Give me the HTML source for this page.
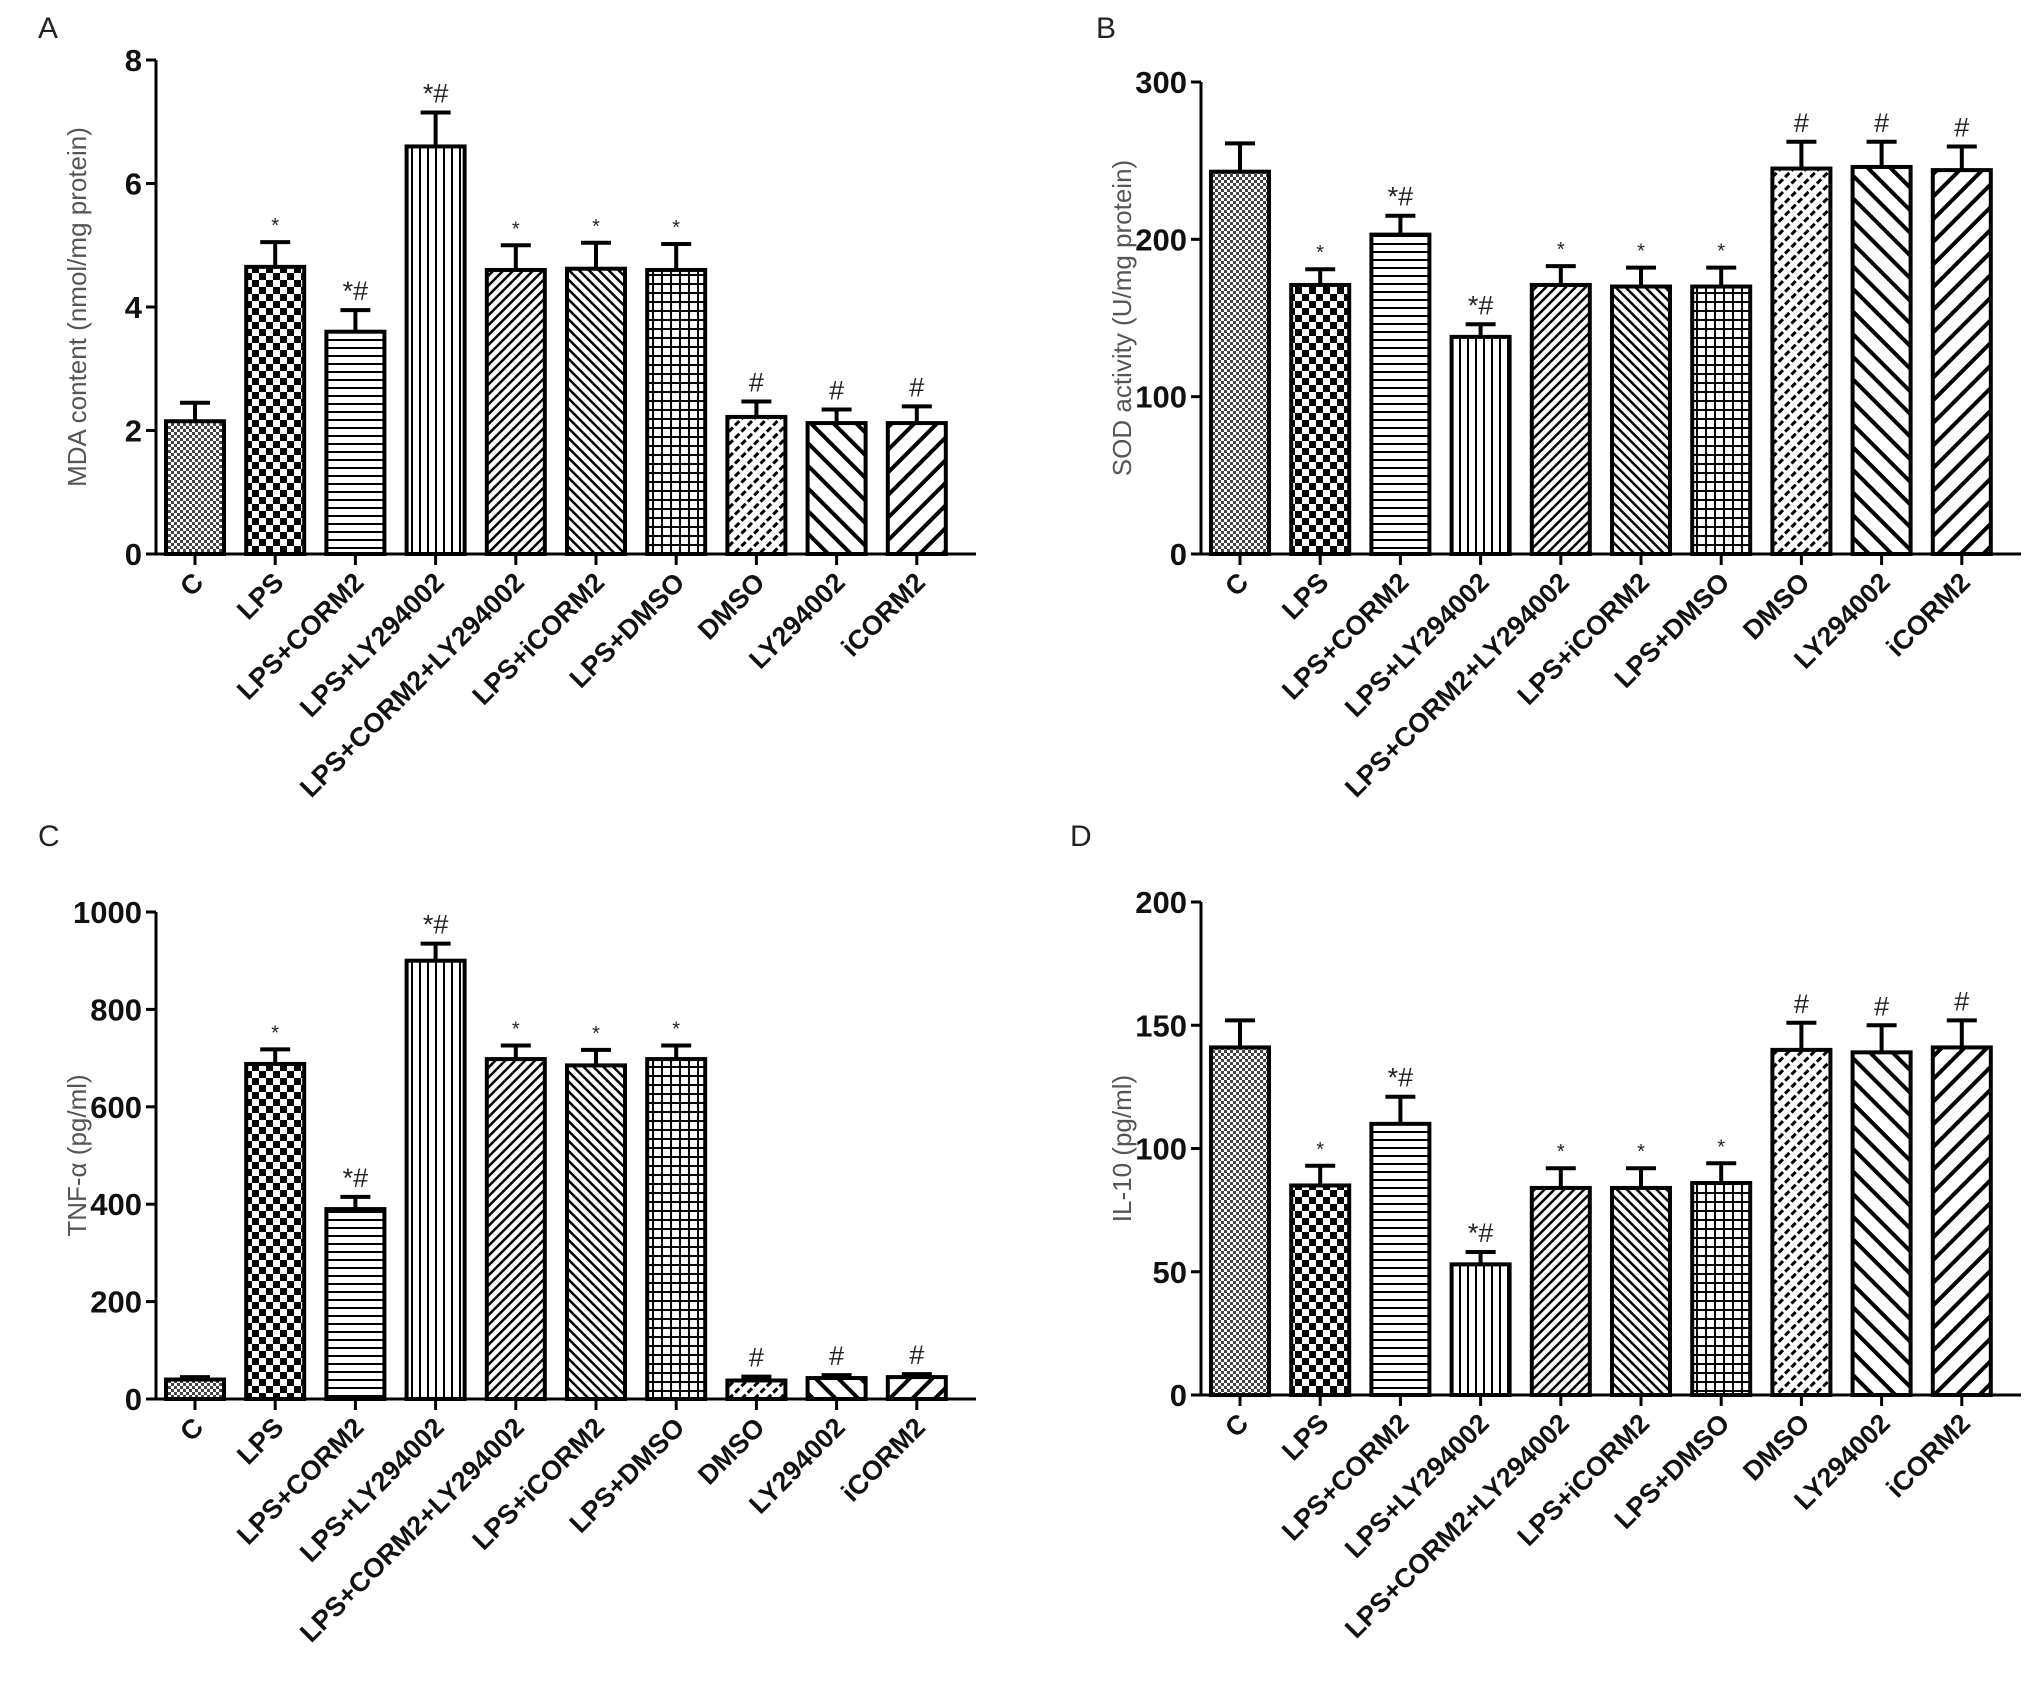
<!DOCTYPE html>
<html><head><meta charset="utf-8"><style>
html,body{margin:0;padding:0;background:#fff;}
svg{display:block;font-family:"Liberation Sans",Arial,sans-serif;}
</style></head><body>
<svg id="fig" width="2031" height="1698" viewBox="0 0 2031 1698" xmlns="http://www.w3.org/2000/svg">
<defs>
<pattern id="p0" patternUnits="userSpaceOnUse" width="6" height="6"><rect width="6" height="6" fill="#fff"/><rect width="3" height="3" fill="#444"/><rect x="3" y="3" width="3" height="3" fill="#444"/></pattern>
<pattern id="p1" patternUnits="userSpaceOnUse" width="14" height="14"><rect width="14" height="14" fill="#fff"/><rect width="7" height="7" fill="#000"/><rect x="7" y="7" width="7" height="7" fill="#000"/></pattern>
<pattern id="p2" patternUnits="userSpaceOnUse" width="8" height="8"><rect width="8" height="8" fill="#fff"/><rect y="3" width="8" height="2" fill="#000"/></pattern>
<pattern id="p3" patternUnits="userSpaceOnUse" width="8" height="8"><rect width="8" height="8" fill="#fff"/><rect x="3" width="2" height="8" fill="#000"/></pattern>
<pattern id="p4" patternUnits="userSpaceOnUse" width="7" height="7" patternTransform="rotate(45)"><rect width="7" height="7" fill="#fff"/><rect width="2.5" height="7" fill="#000"/></pattern>
<pattern id="p5" patternUnits="userSpaceOnUse" width="7" height="7" patternTransform="rotate(-45)"><rect width="7" height="7" fill="#fff"/><rect width="2.5" height="7" fill="#000"/></pattern>
<pattern id="p6" patternUnits="userSpaceOnUse" width="9" height="9"><rect width="9" height="9" fill="#fff"/><rect x="4" width="2" height="9" fill="#000"/><rect y="4" width="9" height="2" fill="#000"/></pattern>
<pattern id="p7" patternUnits="userSpaceOnUse" width="9" height="9" patternTransform="rotate(45)"><rect width="9" height="9" fill="#fff"/><rect width="3" height="6" fill="#000"/></pattern>
<pattern id="p8" patternUnits="userSpaceOnUse" width="16" height="16" patternTransform="rotate(-45)"><rect width="16" height="16" fill="#fff"/><rect width="4" height="16" fill="#000"/></pattern>
<pattern id="p9" patternUnits="userSpaceOnUse" width="16" height="16" patternTransform="rotate(45)"><rect width="16" height="16" fill="#fff"/><rect width="4" height="16" fill="#000"/></pattern>
</defs>
</svg>
<script>
const categories = ["C","LPS","LPS+CORM2","LPS+LY294002","LPS+CORM2+LY294002","LPS+iCORM2","LPS+DMSO","DMSO","LY294002","iCORM2"];
const notes = ["","*","*#","*#","*","*","*","#","#","#"];
const mdaValues = [2.15,4.65,3.6,6.6,4.6,4.62,4.6,2.22,2.12,2.12];
const mdaErrors = [0.3,0.4,0.35,0.55,0.4,0.42,0.42,0.25,0.22,0.27];
const sodValues = [243,171,203,138,171,170,170,245,246,244];
const sodErrors = [18,10,12,8,12,12,12,17,16,15];
const tnfValues = [40,688,390,900,698,685,698,38,43,45];
const tnfErrors = [5,30,25,35,28,32,28,8,6,6];
const il10Values = [141,85,110,53,84,84,86,140,139,141];
const il10Errors = [11,8,11,5,8,8,8,11,11,11];
const mdaTicks = [0,2,4,6,8];
const sodTicks = [0,100,200,300];
const tnfTicks = [0,200,400,600,800,1000];
const il10Ticks = [0,50,100,150,200];

const svg = document.getElementById('fig');
const NS = 'http://www.w3.org/2000/svg';
function mk(tag, attrs, parent){const e=document.createElementNS(NS,tag);for(const k in attrs)e.setAttribute(k,attrs[k]);(parent||svg).appendChild(e);return e;}

function panel(cfg){
  const g = mk('g',{});
  
  
  const ymax = cfg.ticks[cfg.ticks.length-1];
  const yS = v => cfg.y0 - (v/ymax)*(cfg.y0-cfg.yTop);
  const xS = i => cfg.x0 + 39 + i*80.2;
  const bw = 58;
  const lt = mk('text',{x:cfg.lx,y:cfg.ly,'font-size':30,fill:'#222'},g);
  lt.textContent = cfg.letter;
  
  
  const yt = mk('text',{x:0,y:0,'font-size':26,fill:'#555','text-anchor':'middle',transform:`translate(${cfg.x0-70},${(cfg.y0+cfg.yTop)/2}) rotate(-90)`},g);
  yt.textContent = cfg.title;
  
  
  categories.forEach((c,i)=>{
    const v = cfg.values[i], e = cfg.errors[i], cx = xS(i);
    const top = yS(v+e);
    const el = mk('line',{x1:cx,x2:cx,y1:yS(v),y2:top,stroke:'#000','stroke-width':4},g);
    
    
    const cap = mk('line',{x1:cx-15,x2:cx+15,y1:top,y2:top,stroke:'#000','stroke-width':4},g);
    
    
    const r = mk('rect',{x:cx-bw/2,y:yS(v),width:bw,height:cfg.y0-yS(v),fill:`url(#p${i})`,stroke:'#000','stroke-width':4},g);
    
    
    if(notes[i]){
      const n = mk('text',{x:cx,y:top-10,'font-size':notes[i]==='*'?20:27,fill:'#222','text-anchor':'middle'},g);
      n.textContent = notes[i];
      
      
    }
    const tk = mk('line',{x1:cx,x2:cx,y1:cfg.y0,y2:cfg.y0+11,stroke:'#000','stroke-width':3},g);
    
    
    const xl = mk('text',{x:0,y:0,'font-size':27,'font-weight':'bold',fill:'#111','text-anchor':'end',transform:`translate(${cx+10},${cfg.y0+30}) rotate(-45)`},g);
    xl.textContent = c;
    
    
  });
  const ax = mk('line',{x1:cfg.x0,x2:cfg.x0,y1:cfg.yTop,y2:cfg.y0,stroke:'#000','stroke-width':3},g);
  
  
  const xa = mk('line',{x1:cfg.x0-2,x2:cfg.x0+820,y1:cfg.y0,y2:cfg.y0,stroke:'#000','stroke-width':3},g);
  
  
  cfg.ticks.forEach(t=>{
    const y = yS(t);
    const tl = mk('line',{x1:cfg.x0-10,x2:cfg.x0,y1:y,y2:y,stroke:'#000','stroke-width':3},g);
    
    
    const tx = mk('text',{x:cfg.x0-14,y:y+11,'font-size':31,'font-weight':'bold',fill:'#111','text-anchor':'end'},g);
    tx.textContent = t;
    
    
  });
}
panel({name:'panel-a-mda',letter:'A',lx:38,ly:38,x0:156,yTop:60,y0:554,ticks:mdaTicks,values:mdaValues,errors:mdaErrors,title:'MDA content (nmol/mg protein)'});
panel({name:'panel-b-sod',letter:'B',lx:1096,ly:38,x0:1201,yTop:82,y0:554,ticks:sodTicks,values:sodValues,errors:sodErrors,title:'SOD activity (U/mg protein)'});
panel({name:'panel-c-tnf',letter:'C',lx:38,ly:846,x0:156,yTop:912,y0:1399,ticks:tnfTicks,values:tnfValues,errors:tnfErrors,title:'TNF-α (pg/ml)'});
panel({name:'panel-d-il10',letter:'D',lx:1070,ly:846,x0:1201,yTop:902,y0:1395,ticks:il10Ticks,values:il10Values,errors:il10Errors,title:'IL-10 (pg/ml)'});
</script>
</body></html>
